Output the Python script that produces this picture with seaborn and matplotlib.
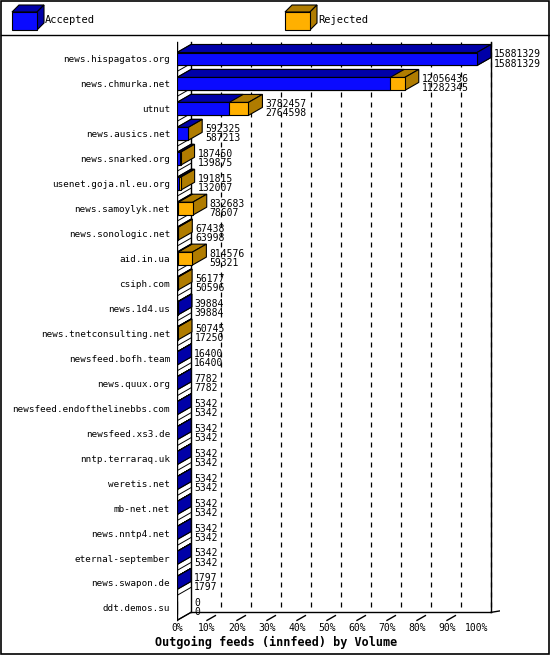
import numpy as np
import pandas as pd
import matplotlib.pyplot as plt
import seaborn as sns
from matplotlib.patches import Polygon, Rectangle
from matplotlib.lines import Line2D

# feed data (total offered / accepted)
feeds = ['news.hispagatos.org', 'news.chmurka.net', 'utnut', 'news.ausics.net',
         'news.snarked.org', 'usenet.goja.nl.eu.org', 'news.samoylyk.net',
         'news.sonologic.net', 'aid.in.ua', 'csiph.com', 'news.1d4.us',
         'news.tnetconsulting.net', 'newsfeed.bofh.team', 'news.quux.org',
         'newsfeed.endofthelinebbs.com', 'newsfeed.xs3.de', 'nntp.terraraq.uk',
         'weretis.net', 'mb-net.net', 'news.nntp4.net', 'eternal-september',
         'news.swapon.de', 'ddt.demos.su']
total = [15881329, 12056436, 3782457, 592325, 187450, 191815, 832683, 67438,
         814576, 56177, 39884, 50745, 16400, 7782, 5342, 5342, 5342, 5342,
         5342, 5342, 5342, 1797, 0]
accepted = [15881329, 11282345, 2764598, 587213, 139875, 132007, 78607, 63998,
            59321, 50596, 39884, 17250, 16400, 7782, 5342, 5342, 5342, 5342,
            5342, 5342, 5342, 1797, 0]

BLUE, BLUE_D = '#0a0aff', '#0000a8'
ORNG, ORNG_D = '#ffb000', '#b07c00'

df = pd.DataFrame({'feed': feeds, 'total': total, 'accepted': accepted})
top = max(total)
df['tot_pct'] = df['total'] / top * 100
df['acc_pct'] = df['accepted'] / top * 100

plt.rcParams['font.family'] = 'DejaVu Sans Mono'
W, H = 550, 655
fig = plt.figure(figsize=(W / 100, H / 100), dpi=100)
ax = fig.add_axes([177 / W, 1 - 622 / H, 323 / W, 582 / H])
YLIM = ((622 - 59) / 24.95, (40 - 59) / 24.95)

dx, dy = 14 / 3, 8 / 24.95   # depth in data units
hw = 0.26                    # half bar height

# back wall grid
for p in range(10, 101, 10):
    ax.plot([p + dx, p + dx], [-0.68, 22.5 - dy], color='black', lw=0.9,
            ls=(0, (4, 4)), zorder=0)
ax.plot([dx, dx], [-0.68, 22.5 - dy], color='black', lw=1, zorder=0)
ax.plot([100 + dx, 100 + dx], [-0.68, 22.5 - dy], color='black', lw=1, zorder=0)
ax.plot([0, 0], [-0.68, 22.5], color='black', lw=1, zorder=0)
for i in range(1, len(feeds) + 1):
    yb = i - 0.5
    ax.plot([0, dx], [yb, yb - dy], color='black', lw=0.7, zorder=0)
# floor
ax.plot([dx, 100 + dx], [22.5 - dy, 22.5 - dy], color='black', lw=1, zorder=0)
ax.plot([-3, 0, dx], [22.5 + 0.12, 22.5, 22.5 - dy], color='black', lw=1, zorder=0)
ax.plot([100 + dx, 100 + dx + 5], [22.5 - dy, 22.5 - dy - 0.1], color='black', lw=1, zorder=0)
for p in range(10, 100, 10):
    ax.plot([p, p + dx * 0.6], [22.5, 22.5 - dy * 0.6], color='black', lw=1, zorder=0)

def box_faces(x, y, fc_top, fc_side, side=True):
    if x <= 0:
        return
    ax.add_patch(Polygon([(0, y - hw), (dx, y - hw - dy), (x + dx, y - hw - dy), (x, y - hw)],
                         closed=True, fc=fc_top, ec='black', lw=0.8, zorder=2))
    if side:
        ax.add_patch(Polygon([(x, y - hw), (x + dx, y - hw - dy), (x + dx, y + hw - dy), (x, y + hw)],
                             closed=True, fc=fc_side, ec='black', lw=0.8, zorder=2))

for i, r in df.iterrows():
    box_faces(r['tot_pct'], i, ORNG_D, ORNG_D)
    box_faces(r['acc_pct'], i, BLUE_D, BLUE_D, side=r['acc_pct'] >= r['tot_pct'])

sns.barplot(data=df, x='tot_pct', y='feed', color=ORNG, saturation=1, width=2 * hw,
            edgecolor='black', linewidth=0.8, ax=ax, zorder=3)
sns.barplot(data=df, x='acc_pct', y='feed', color=BLUE, saturation=1, width=2 * hw,
            edgecolor='black', linewidth=0.8, ax=ax, zorder=4)
ax.set_xlim(0, 323 / 3)
ax.set_ylim(*YLIM)

for i, r in df.iterrows():
    x = r['tot_pct'] + dx + 1.0
    ax.text(x, i + 0.02, f"{r['total']}", fontsize=7, va='bottom', ha='left', zorder=5)
    ax.text(x, i - 0.02, f"{r['accepted']}", fontsize=7, va='top', ha='left', zorder=5)

for s in ax.spines.values():
    s.set_visible(False)
ax.set_xticks(range(0, 101, 10))
ax.set_xticklabels([f'{p}%' for p in range(0, 101, 10)], fontsize=7)
ax.tick_params(axis='x', length=0, pad=1)
ax.tick_params(axis='y', length=0, pad=5, labelsize=6.7)
ax.set_ylabel('')
ax.set_xlabel('Outgoing feeds (innfeed) by Volume', fontsize=8.5, fontweight='bold',
              labelpad=2)
ax.xaxis.set_label_coords(-22 / 323, -14 / 582)
ax.xaxis.label.set_ha('left')

# legend strip and border
fig.add_artist(Rectangle((1 / W, 1 / H), 548 / W, 653 / H, fill=False, ec='black', lw=1.2))
fig.add_artist(Line2D([1 / W, 549 / W], [1 - 35 / H, 1 - 35 / H], color='black', lw=1))
for x0, fc, fd, lab in [(12, BLUE, BLUE_D, 'Accepted'), (285, ORNG, ORNG_D, 'Rejected')]:
    fig.add_artist(Polygon([(x0 / W, 1 - 12 / H), ((x0 + 7) / W, 1 - 5 / H),
                            ((x0 + 32) / W, 1 - 5 / H), ((x0 + 25) / W, 1 - 12 / H)],
                           closed=True, fc=fd, ec='black', lw=0.8))
    fig.add_artist(Polygon([((x0 + 25) / W, 1 - 12 / H), ((x0 + 32) / W, 1 - 5 / H),
                            ((x0 + 32) / W, 1 - 23 / H), ((x0 + 25) / W, 1 - 30 / H)],
                           closed=True, fc=fd, ec='black', lw=0.8))
    fig.add_artist(Rectangle((x0 / W, 1 - 30 / H), 25 / W, 18 / H, fc=fc, ec='black', lw=0.8))
    fig.text((x0 + 33) / W, 1 - 20 / H, lab, fontsize=7.5, va='center')

fig.savefig('out.png', dpi=100, facecolor='white')
